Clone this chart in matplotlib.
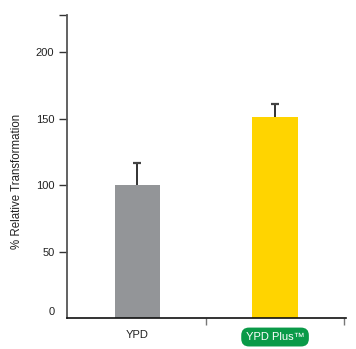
import numpy as np
import matplotlib.pyplot as plt

plt.rcParams['font.family'] = ['Liberation Sans', 'DejaVu Sans']

categories = ['YPD', 'YPD Plus\u2122']
values = [100, 151.5]
errors = [16.5, 9.5]
colors = ['#939598', '#ffd400']
yticks = [50, 100, 150, 200, 228]
ytick_labels = ['50', '100', '150', '200', '']

fig = plt.figure(figsize=(3.56, 3.49), dpi=100)
ax = fig.add_axes([0.188, 0.089, 0.784, 0.868])

x = np.arange(len(categories))
tops = np.array(values) + np.array(errors)
ax.vlines(x, values, tops, color='#222222', lw=1.3, zorder=1)
ax.plot(x, tops, ls='none', marker='_', ms=6, mew=1.6, color='#444444', zorder=1)
ax.bar(x, values, width=0.33, color=colors, zorder=2)

ax.set_xlim(-0.513, 1.516)
ax.set_ylim(0, 228)
ax.set_yticks(yticks)
ax.set_yticklabels(ytick_labels, fontsize=8, color='#222222')
ax.text(-0.6, 1, '0', fontsize=8, color='#222222', ha='right', va='bottom')
ax.tick_params(axis='y', length=6, width=1, color='#333333', pad=3)

ax.set_xticks([0.5, 1.5])
ax.set_xticklabels(['', ''])
ax.tick_params(axis='x', length=5, width=1, color='#777777')

for s in ['top', 'right']:
    ax.spines[s].set_visible(False)
ax.spines['left'].set_color('#555555')
ax.spines['left'].set_linewidth(1.3)
ax.spines['bottom'].set_color('#111111')
ax.spines['bottom'].set_linewidth(1.2)

ax.set_ylabel('% Relative Transformation', fontsize=8.3, color='#222222')
ax.yaxis.set_label_coords(-0.157, 0.45)

# category labels below the axis
ax.text(0, -0.055, categories[0], transform=ax.get_xaxis_transform(),
        ha='center', va='center', fontsize=8, color='#222222')
ax.text(1, -0.063, categories[1], transform=ax.get_xaxis_transform(),
        ha='center', va='center', fontsize=8, color='white',
        bbox=dict(boxstyle='round,pad=0.4,rounding_size=0.7', fc='#0a9a48', ec='none'))

fig.savefig('out.png', dpi=100)
